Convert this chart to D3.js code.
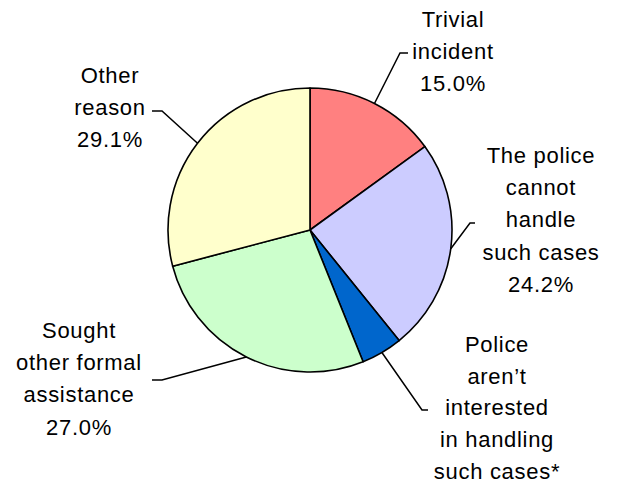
<!DOCTYPE html>
<html><head><meta charset="utf-8">
<script src="https://cdn.jsdelivr.net/npm/d3@7"></script>
<style>html,body{margin:0;padding:0;background:#fff;}svg{display:block;}</style>
</head><body>
<svg id="chart" width="621" height="486"></svg>
<script>
// Data
const categories = ["Trivial incident", "The police cannot handle such cases", "Police aren\u2019t interested in handling such cases*", "Sought other formal assistance", "Other reason"];
const values = [15.0, 24.2, 4.7, 27.0, 29.1];
const labelLines = [
  ["Trivial", "incident", "15.0%"],
  ["The police", "cannot", "handle", "such cases", "24.2%"],
  ["Police", "aren\u2019t", "interested", "in handling", "such cases*"],
  ["Sought", "other formal", "assistance", "27.0%"],
  ["Other", "reason", "29.1%"]
];
const colors = ["#FF8080", "#CCCCFF", "#0066CC", "#CCFFCC", "#FFFFCC"];

// Layout (positions only)
const cx = 310, cy = 230, R = 142;
const labelPos = [ {x:453, y:27}, {x:541, y:163}, {x:497, y:352}, {x:79, y:338}, {x:110, y:83} ];
const elbows = [ [[400,53],[408,53]], [[470,223],[475,223]], [[422,410],[428,410]], [[162,380],[152,380]], [[162,111],[152,111]] ];
const lineH = 32.2;
const lineHLast = 31.7;

const svg = d3.select("#chart");
const g = svg.append("g").attr("transform", `translate(${cx},${cy})`);
const pie = d3.pie().sort(null).value(d => d)(values);
const arc = d3.arc().innerRadius(0).outerRadius(R);

g.selectAll("path.slice").data(pie).join("path")
  .attr("class","slice")
  .attr("d", arc)
  .attr("fill", (d,i) => colors[i])
  .attr("stroke", "#000").attr("stroke-width", 1.6).attr("stroke-linejoin","round");

// leader lines
pie.forEach((d,i) => {
  const a = (d.startAngle + d.endAngle)/2;
  const sx = cx + R*Math.sin(a), sy = cy - R*Math.cos(a);
  const pts = [[sx,sy], ...elbows[i]];
  svg.append("path").attr("d", d3.line()(pts)).attr("fill","none").attr("stroke","#000").attr("stroke-width",1.5);
});

// labels
labelLines.forEach((lines,i) => {
  const lh = i === 2 ? lineHLast : lineH;
  const t = svg.append("text")
    .attr("font-family", "'Liberation Sans', Arial, sans-serif")
    .attr("font-size", 22).attr("letter-spacing", "0.7px")
    .attr("text-anchor", "middle").attr("fill", "#000");
  lines.forEach((ln,j) => {
    t.append("tspan").attr("x", labelPos[i].x).attr("y", labelPos[i].y + j*lh).text(ln);
  });
});
</script>
</body></html>
